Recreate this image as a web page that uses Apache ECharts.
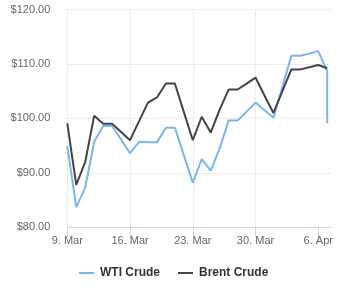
<!DOCTYPE html>
<html>
<head>
<meta charset="utf-8">
<script src="https://cdn.jsdelivr.net/npm/echarts@6/dist/echarts.min.js"></script>
<style>html,body{margin:0;padding:0;background:#fff}#c{width:341px;height:300px}</style>
</head>
<body>
<div id="c"></div>
<script>
const dates = ['9. Mar','10. Mar','11. Mar','12. Mar','13. Mar','14. Mar','15. Mar','16. Mar','17. Mar','18. Mar',
  '19. Mar','20. Mar','21. Mar','22. Mar','23. Mar','24. Mar','25. Mar','26. Mar','27. Mar','28. Mar',
  '29. Mar','30. Mar','31. Mar','1. Apr','2. Apr','3. Apr','4. Apr','5. Apr','6. Apr','7. Apr'];
const tickDays = [0, 7, 14, 21, 28];
const yTicks = [80, 90, 100, 110, 120];
// WTI: last two readings share 7. Apr (intraday drop)
const wtiDays = [0,1,2,3,4,5,6,7,8,9,10,11,12,13,14,15,16,17,18,19,20,21,22,23,24,25,26,27,28,29,29];
const wti = [94.9, 83.7, 87.3, 95.7, 98.6, 98.6, 96.1, 93.6, 95.7, 95.6,
  95.6, 98.3, 98.3, 93.25, 88.2, 92.5, 90.4, 94.5, 99.6, 99.6,
  101.25, 102.9, 101.5, 100.1, 105.8, 111.5, 111.5, 111.9, 112.35, 108.7, 99.1];
const brentDays = [0,1,2,3,4,5,6,7,8,9,10,11,12,13,14,15,16,17,18,19,20,21,22,23,24,25,26,27,28,29];
const brent = [99.1, 87.8, 92.0, 100.5, 99.0, 99.0, 97.5, 96.0, 99.45, 102.9,
  103.85, 106.4, 106.4, 101.2, 96.0, 100.3, 97.4, 101.6, 105.3, 105.3,
  106.4, 107.5, 104.2, 101.0, 105.0, 109.0, 109.0, 109.4, 109.8, 109.2];

const font = "'Liberation Sans', Arial, Helvetica, sans-serif";
const chart = echarts.init(document.getElementById('c'), null, {renderer: 'canvas'});
chart.setOption({
  animation: false,
  textStyle: {fontFamily: font},
  grid: {left: 67.3, right: 10.2, top: 9.5, bottom: 72.7, containLabel: false},
  xAxis: {
    type: 'value', min: 0, max: 29.4, interval: 7,
    axisLine: {show: true, lineStyle: {color: '#ccd6eb', width: 1}},
    axisTick: {show: true, length: 10, lineStyle: {color: '#ccd6eb'}, customValues: tickDays},
    axisLabel: {color: '#666666', fontSize: 11, fontFamily: font, margin: 8, customValues: tickDays,
      formatter: v => dates[Math.round(v)] || ''},
    splitLine: {show: true, showMaxLine: false, lineStyle: {color: '#ececec', width: 1}}
  },
  yAxis: {
    type: 'value', min: yTicks[0], max: yTicks[yTicks.length - 1], interval: 10,
    axisLine: {show: false}, axisTick: {show: false},
    axisLabel: {color: '#666666', fontSize: 11, fontFamily: font, margin: 17,
      formatter: v => '$' + v.toFixed(2)},
    splitLine: {show: true, lineStyle: {color: '#ececec', width: 1}}
  },
  legend: {
    top: 267, left: 79, padding: 0, icon: 'rect', itemWidth: 15, itemHeight: 2, itemGap: 18,
    textStyle: {color: '#333333', fontSize: 12, fontWeight: 'bold', fontFamily: font, padding: [0, 0, 0, 1]},
    data: ['WTI Crude', 'Brent Crude']
  },
  series: [
    {name: 'WTI Crude', type: 'line', symbol: 'none', color: '#7cb5ec',
      lineStyle: {width: 2, color: '#7cb5ec'},
      data: wti.map((v, i) => [wtiDays[i], v])},
    {name: 'Brent Crude', type: 'line', symbol: 'none', color: '#434348',
      lineStyle: {width: 2, color: '#434348'},
      data: brent.map((v, i) => [brentDays[i], v])}
  ]
});
</script>
</body>
</html>
